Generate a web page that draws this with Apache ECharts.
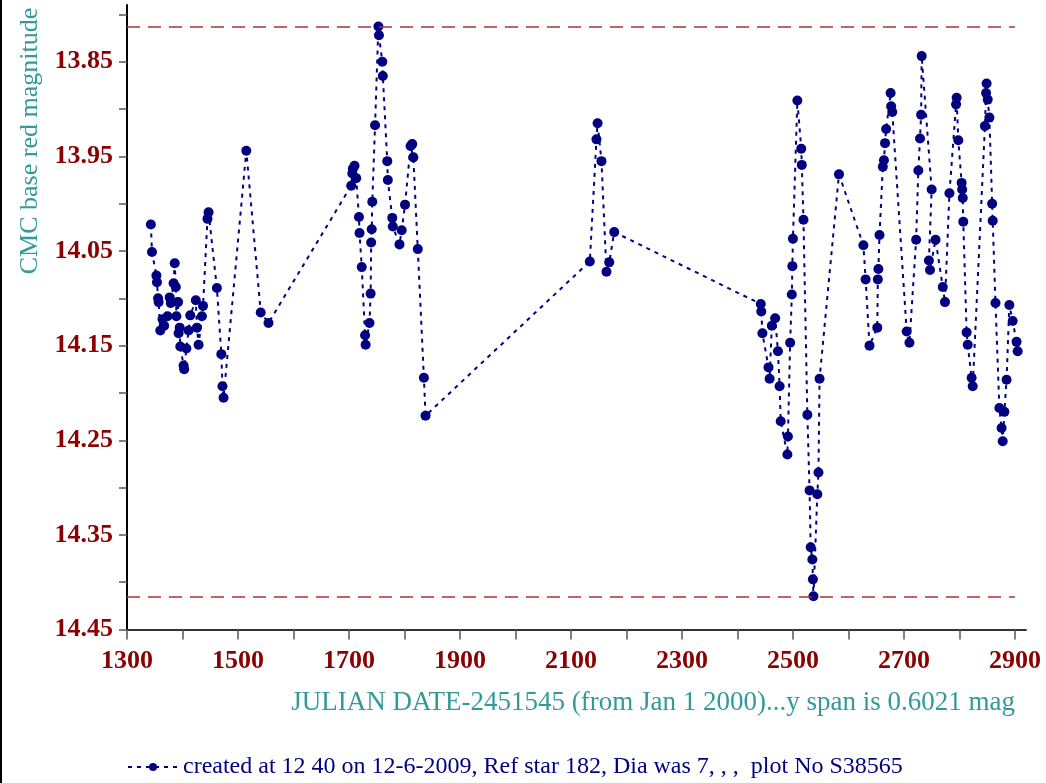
<!DOCTYPE html>
<html><head><meta charset="utf-8">
<script src="https://cdn.jsdelivr.net/npm/echarts@6/dist/echarts.min.js"></script>
<style>html,body{margin:0;padding:0;background:#fff}#c{width:1046px;height:783px}</style>
</head><body><div id="c"></div>
<script>
// Julian date - 2451545
const days = [
 1343,1345,1353,1354,1356,1357,1360,1364,1367,1373,1377,1379,1384,1386,1388,1389,1392,1393,1395,1396,
 1402,1403,1407,1411,1414,1424,1426,1429,1435,1437,1445,1447,1462,1470,1472,1474,1515,1541,1555,
 1704,1706,1707,1710,1713,1718,1719,1723,1729,1730,1737,1739,1740,1741,1742,1747,1753,1754,1760,1761,
 1769,1770,1778,1779,1791,1795,1801,1811,1814,1816,1824,1835,1838,
 2134,2146,2148,2155,2164,2169,2178,
 2442,2443,2445,2456,2458,2462,2468,2473,2476,2478,2490,2491,2495,2498,2499,2500,2508,2515,2516,2519,
 2526,2530,2532,2535,2536,2537,2544,2546,2548,
 2583,2627,2631,2638,2652,2653,2654,2656,2662,2664,2666,2668,2676,2677,2679,2705,2710,2722,2726,2729,
 2731,2732,2750,2745,2747,2757,2770,2774,2782,2794,2795,2798,2804,2805,2806,2807,2813,2815,2822,2824,
 2846,2848,2849,2851,2854,2859,2860,2865,2872,2876,2878,2881,2885,2890,2896,2903,2905
];
// CMC base red magnitude
const mags = [
 14.022,14.051,14.076,14.083,14.100,14.104,14.134,14.122,14.129,14.119,14.099,14.105,14.084,14.063,14.088,14.119,14.104,14.137,14.131,14.151,
 14.171,14.175,14.153,14.134,14.118,14.102,14.131,14.149,14.119,14.108,14.016,14.009,14.089,14.159,14.193,14.205,13.944,14.115,14.126,
 13.981,13.968,13.963,13.960,13.973,14.014,14.031,14.067,14.139,14.149,14.126,14.095,14.041,14.027,13.998,13.917,13.8128,13.822,13.850,13.865,
 13.955,13.975,14.015,14.024,14.043,14.028,14.001,13.939,13.937,13.951,14.048,14.184,14.224,
 14.061,13.932,13.915,13.955,14.072,14.062,14.030,
 14.106,14.114,14.137,14.173,14.185,14.129,14.121,14.156,14.193,14.230,14.265,14.246,14.147,14.096,14.066,14.037,13.891,13.942,13.959,14.017,
 14.223,14.303,14.363,14.376,14.397,14.4149,14.307,14.284,14.185,
 13.969,14.044,14.080,14.150,14.131,14.080,14.069,14.033,13.961,13.954,13.936,13.921,13.883,13.897,13.903,14.135,14.147,14.038,13.965,13.931,
 13.906,13.844,13.985,14.060,14.070,14.038,14.088,14.104,13.989,13.895,13.888,13.933,13.978,13.985,13.994,14.019,14.136,14.149,14.184,14.193,
 13.918,13.883,13.873,13.890,13.909,14.000,14.018,14.105,14.216,14.237,14.251,14.220,14.186,14.107,14.124,14.146,14.156
];
const xTickVals = [1300,1400,1500,1600,1700,1800,1900,2000,2100,2200,2300,2400,2500,2600,2700,2800,2900];
const xLabelVals = [1300,1500,1700,1900,2100,2300,2500,2700,2900];
const yTickVals = [13.80,13.85,13.90,13.95,14.00,14.05,14.10,14.15,14.20,14.25,14.30,14.35,14.40,14.45];
const yLabelVals = [13.85,13.95,14.05,14.15,14.25,14.35,14.45];
const seriesName = 'created at 12 40 on 12-6-2009, Ref star 182, Dia was 7, , ,  plot No S38565';
const yTitle = 'CMC base red magnitude';
const xTitle = 'JULIAN DATE-2451545 (from Jan 1 2000)...y span is 0.6021 mag';

const points = days.map((d, i) => [d, mags[i]]);
const minV = Math.min(...mags), maxV = Math.max(...mags);
const serif = '"Liberation Serif","Times New Roman",serif';

const chart = echarts.init(document.getElementById('c'), null, {renderer: 'canvas'});
chart.setOption({
  animation: false,
  backgroundColor: '#ffffff',
  grid: {left: 127, right: 20, top: 5, bottom: 153.5, containLabel: false},
  xAxis: {
    type: 'value', min: 1300, max: 2920,
    axisLine: {show: true, onZero: false, lineStyle: {color: '#333', width: 2}},
    axisTick: {show: true, length: 10, customValues: xTickVals, lineStyle: {color: '#555', width: 1.5}},
    axisLabel: {customValues: xLabelVals, margin: 19, color: '#8B0000', fontFamily: serif, fontWeight: 'bold', fontSize: 26,
      formatter: v => String(Math.round(v))},
    splitLine: {show: false}
  },
  yAxis: {
    type: 'value', inverse: true, min: 13.79, max: 14.45,
    axisLine: {show: true, onZero: false, lineStyle: {color: '#000', width: 2}},
    axisTick: {show: true, length: 8, customValues: yTickVals, lineStyle: {color: '#555', width: 1.5}},
    axisLabel: {customValues: yLabelVals, margin: 14, color: '#8B0000', fontFamily: serif, fontWeight: 'bold', fontSize: 26,
      formatter: v => v.toFixed(2)},
    splitLine: {show: false}
  },
  legend: {
    show: true, left: 122, top: 750, itemWidth: 50, itemHeight: 10, itemGap: 4,
    data: [{name: seriesName}],
    textStyle: {color: '#000080', fontFamily: serif, fontSize: 24}
  },
  graphic: [
    {type: 'rect', shape: {x: 0, y: 0, width: 2, height: 783}, style: {fill: '#000'}},
    {type: 'text', x: 30, y: 141, rotation: Math.PI / 2,
     style: {text: yTitle, fill: '#339999', fontFamily: serif, fontSize: 26, textAlign: 'center', textVerticalAlign: 'middle'}},
    {type: 'text', x: 1015, y: 703,
     style: {text: xTitle, fill: '#339999', fontFamily: serif, fontSize: 27, textAlign: 'right', textVerticalAlign: 'middle'}}
  ],
  series: [{
    type: 'line', name: seriesName, data: points,
    symbol: 'circle', symbolSize: 10,
    itemStyle: {color: '#000080'},
    lineStyle: {color: '#000080', width: 2, type: [4, 5]},
    markLine: {
      silent: true, symbol: 'none', label: {show: false},
      lineStyle: {color: '#B03030', width: 1.5, type: [13, 8]},
      data: [
        [{coord: [1300, minV]}, {coord: [2900, minV]}],
        [{coord: [1300, maxV]}, {coord: [2900, maxV]}]
      ]
    }
  }]
});
</script></body></html>
